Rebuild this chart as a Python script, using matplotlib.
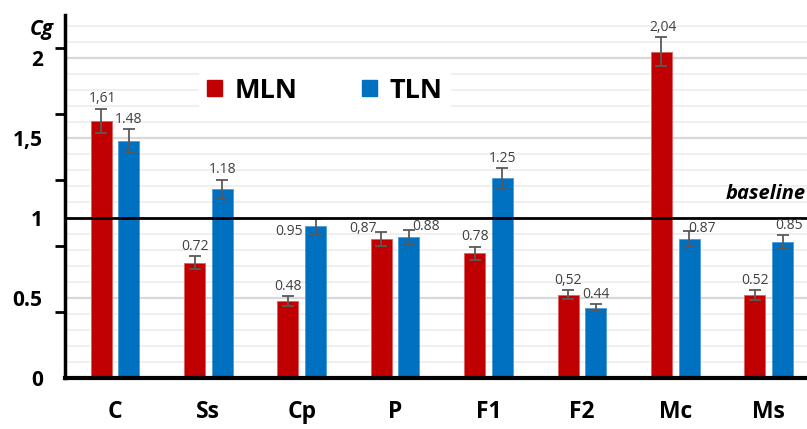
import numpy as np
import matplotlib
matplotlib.use("Agg")
import matplotlib.pyplot as plt
from matplotlib.patches import Patch

plt.rcParams['font.family'] = ['Open Sans', 'DejaVu Sans']

# data
categories = ['C', 'Ss', 'Cp', 'P', 'F1', 'F2', 'Mc', 'Ms']
mln = [1.61, 0.72, 0.48, 0.87, 0.78, 0.52, 2.04, 0.52]
tln = [1.48, 1.18, 0.95, 0.88, 1.25, 0.44, 0.87, 0.85]
mln_err = [0.075, 0.04, 0.03, 0.045, 0.04, 0.028, 0.09, 0.03]
tln_err = [0.075, 0.06, 0.047, 0.047, 0.062, 0.022, 0.047, 0.044]
mln_labels = ['1,61', '0.72', '0.48', '0,87', '0.78', '0,52', '2,04', '0.52']
tln_labels = ['1.48', '1.18', '0.95', '0.88', '1.25', '0.44', '0.87', '0.85']
ytick_vals = [0, 0.5, 1, 1.5, 2]
ytick_labels = ['0', '0.5', '1', '1,5', '2']

red = '#C00000'
blue = '#0070C0'

fig = plt.figure(figsize=(8.07, 4.29), dpi=100)
ax = fig.add_axes([0.0805, 0.119, 0.9195, 0.846])

x = np.arange(len(categories))
w = 0.225
off = 0.148

# grid
for v in np.arange(0.1, 2.3, 0.1):
    ax.axhline(v, color='#ececec', lw=1.2, zorder=0)
for v in [0.5, 1.5, 2.0]:
    ax.axhline(v, color='#d9d9d9', lw=1.6, zorder=0)

ekw = dict(ecolor='#595959', elinewidth=1.3, capthick=1.3)
ax.bar(x - off, mln, w, color=red, edgecolor='#e06060', lw=0.6,
       yerr=mln_err, capsize=4, error_kw=ekw, zorder=2)
ax.bar(x + off, tln, w, color=blue, edgecolor='#4f9ad6', lw=0.6,
       yerr=tln_err, capsize=4, error_kw=ekw, zorder=2)

# value labels (a few are shifted sideways like in the original)
mln_dx = [0.02, 0.0, 0.0, -0.2, 0.0, 0.0, 0.02, 0.0]
tln_dx = [0.0, 0.0, -0.28, 0.18, 0.0, 0.0, 0.14, 0.07]
for xi, v, e, s, dx in zip(x - off, mln, mln_err, mln_labels, mln_dx):
    y = v + e + 0.015 if abs(dx) < 0.05 else v + 0.02
    ax.text(xi + dx, y, s, ha='center', va='bottom',
            fontsize=10, color='#404040', zorder=4)
for xi, v, e, s, dx in zip(x + off, tln, tln_err, tln_labels, tln_dx):
    if s == '0.95':
        y = v - 0.08
    elif abs(dx) > 0.1:
        y = v + 0.02
    else:
        y = v + e + 0.015
    ax.text(xi + dx, y, s, ha='center', va='bottom',
            fontsize=10, color='#404040', zorder=4)

# baseline
ax.axhline(1, color='black', lw=2, zorder=3)
ax.text(7.4, 1.09, 'baseline', ha='right', va='bottom', fontsize=14.5,
        fontweight='bold', style='italic', color='black')

ax.set_xlim(-0.535, 7.41)
ax.set_ylim(0, 2.27)

for s in ['top', 'right']:
    ax.spines[s].set_visible(False)
ax.spines['left'].set_linewidth(2.5)
ax.spines['bottom'].set_linewidth(3)

ax.set_yticks(ytick_vals)
ax.set_yticklabels(ytick_labels, fontsize=15, fontweight='bold')
ax.tick_params(axis='y', length=0, pad=16)
ax.set_yticks(np.arange(0.4125, 2.1, 0.4125), minor=True)
ax.tick_params(axis='y', which='minor', length=7, width=2, direction='out')

ax.set_xticks(x)
ax.set_xticklabels(categories, fontsize=16.5, fontweight='bold')
ax.tick_params(axis='x', length=0, pad=16)

ax.text(-0.65, 2.18, 'Cg', ha='right', va='center', fontsize=15,
        fontweight='bold', style='italic')

handles = [Patch(color=red, label='MLN'), Patch(color=blue, label='TLN')]
leg = ax.legend(handles=handles, loc='upper left', bbox_to_anchor=(0.18, 0.85),
                ncol=2, frameon=True, facecolor='white', borderaxespad=0,
                edgecolor='none', framealpha=1, handlelength=0.55,
                handleheight=0.55, columnspacing=2.4, handletextpad=0.47,
                borderpad=0.3, prop={'weight': 'bold', 'size': 19.5})
leg.set_zorder(5)

fig.savefig('out.png', dpi=100)
